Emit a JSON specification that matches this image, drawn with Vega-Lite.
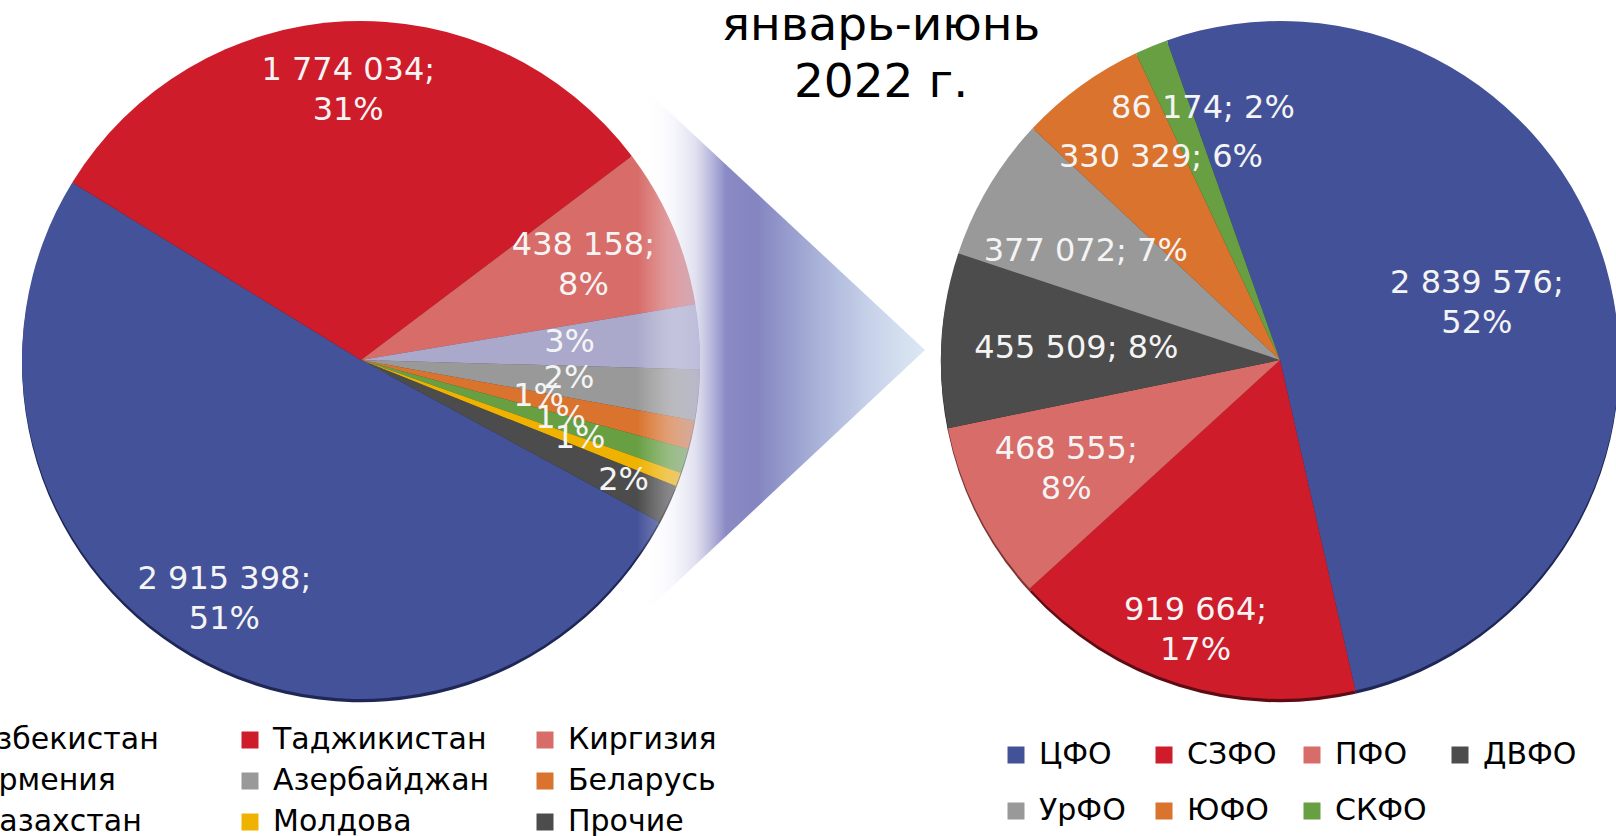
{
  "$schema": "https://vega.github.io/schema/vega-lite/v6.json",
  "width": 1616,
  "height": 720,
  "autosize": {"type": "none"},
  "padding": {"left": 0, "top": 0, "right": 0, "bottom": 116},
  "background": "white",
  "config": {"view": {"stroke": null}, "font": "DejaVu Sans"},
  "title": {
    "text": ["январь-июнь", "2022 г."],
    "font": "DejaVu Sans",
    "fontSize": 47,
    "fontWeight": "normal",
    "color": "#000000",
    "anchor": "middle",
    "frame": "group",
    "dx": 73,
    "offset": -107,
    "lineHeight": 57
  },
  "datasets": {
    "countries": [
      {"i": 1, "name": "Узбекистан", "value": 2915398, "label": "2 915 398;\n51%"},
      {"i": 2, "name": "Таджикистан", "value": 1774034, "label": "1 774 034;\n31%"},
      {"i": 3, "name": "Киргизия", "value": 438158, "label": "438 158;\n8%"},
      {"i": 4, "name": "Армения", "value": 176000, "label": "3%"},
      {"i": 5, "name": "Азербайджан", "value": 138000, "label": "2%"},
      {"i": 6, "name": "Беларусь", "value": 79000, "label": "1%"},
      {"i": 7, "name": "Казахстан", "value": 67000, "label": "1%"},
      {"i": 8, "name": "Молдова", "value": 38000, "label": "1%"},
      {"i": 9, "name": "Прочие", "value": 106000, "label": "2%"}
    ],
    "districts": [
      {"i": 1, "name": "ЦФО", "value": 2839576, "label": "2 839 576;\n52%"},
      {"i": 2, "name": "СЗФО", "value": 919664, "label": "919 664;\n17%"},
      {"i": 3, "name": "ПФО", "value": 468555, "label": "468 555;\n8%"},
      {"i": 4, "name": "ДВФО", "value": 455509, "label": "455 509; 8%"},
      {"i": 5, "name": "УрФО", "value": 377072, "label": "377 072; 7%"},
      {"i": 6, "name": "ЮФО", "value": 330329, "label": "330 329; 6%"},
      {"i": 7, "name": "СКФО", "value": 86174, "label": "86 174; 2%"}
    ],
    "connector": [{"part": "выноска"}]
  },
  "resolve": {"scale": {"theta": "independent", "color": "independent", "x": "independent", "y": "independent"}},
  "layer": [
    {
      "data": {"name": "countries"},
      "mark": {"type": "arc", "outerRadius": 339, "strokeWidth": 0},
      "encoding": {
        "x": {"datum": "страны", "type": "nominal", "scale": {"type": "point", "align": 0.2234}, "axis": null},
        "y": {"datum": "страны", "type": "nominal", "scale": {"type": "point", "align": 0.5045}, "axis": null},
        "theta": {"field": "value", "type": "quantitative", "stack": true, "scale": {"range": [2.068, 8.351]}},
        "order": {"field": "i", "type": "quantitative"},
        "color": {
          "field": "name", "type": "nominal",
          "scale": {
            "domain": ["Узбекистан", "Таджикистан", "Киргизия", "Армения", "Азербайджан", "Беларусь", "Казахстан", "Молдова", "Прочие"],
            "range": ["#1E2756", "#5E0C13", "#7A3634", "#55556A", "#4A4A4A", "#6A3816", "#304D20", "#745600", "#262626"]
          },
          "legend": null
        }
      }
    },
    {
      "data": {"name": "countries"},
      "mark": {"type": "arc", "outerRadius": 339, "strokeWidth": 0},
      "encoding": {
        "x": {"datum": "страны", "type": "nominal", "scale": {"type": "point", "align": 0.2234}, "axis": null},
        "theta": {"field": "value", "type": "quantitative", "stack": true, "scale": {"range": [2.068, 8.351]}},
        "order": {"field": "i", "type": "quantitative"},
        "color": {
          "field": "name", "type": "nominal",
          "scale": {
            "domain": ["Узбекистан", "Таджикистан", "Киргизия", "Армения", "Азербайджан", "Беларусь", "Казахстан", "Молдова", "Прочие"],
            "range": ["#445299", "#CE1C2A", "#D76C69", "#AAA9CB", "#999999", "#D9732D", "#679F42", "#EFB200", "#4C4C4C"]
          },
          "legend": {
            "title": null, "orient": "none", "legendX": -60, "legendY": 725,
            "direction": "horizontal", "columns": 3, "gridAlign": "all",
            "columnPadding": 40, "rowPadding": 11, "padding": 0,
            "symbolType": "square", "symbolSize": 289, "symbolStrokeWidth": 0,
            "labelFont": "DejaVu Sans", "labelFontSize": 30, "labelColor": "#000000",
            "labelOffset": 8, "labelLimit": 400
          }
        }
      }
    },
    {
      "data": {"name": "connector"},
      "mark": {
        "type": "arc", "theta": 3.96, "theta2": 5.462, "outerRadius": 398, "innerRadius": 0, "strokeWidth": 0,
        "fill": {
          "gradient": "linear", "x1": 0, "y1": 0, "x2": 1, "y2": 0,
          "stops": [
            {"offset": 0, "color": "rgba(255,255,255,0)"},
            {"offset": 0.276, "color": "rgba(255,255,255,0)"},
            {"offset": 0.354, "color": "rgba(240,240,250,0.35)"},
            {"offset": 0.422, "color": "rgba(205,205,230,0.6)"},
            {"offset": 0.46, "color": "rgba(175,174,215,0.85)"},
            {"offset": 0.5, "color": "#8A8AC4"},
            {"offset": 0.578, "color": "#8485C1"},
            {"offset": 0.731, "color": "#A9B2D8"},
            {"offset": 0.867, "color": "#C8D3EA"},
            {"offset": 1, "color": "#DDE8F4"}
          ]
        }
      },
      "encoding": {
        "x": {"datum": "выноска", "type": "nominal", "scale": {"type": "point", "align": 0.5724}, "axis": null},
        "y": {"datum": "выноска", "type": "nominal", "scale": {"type": "point", "align": 0.4861}, "axis": null}
      }
    },
    {
      "data": {"name": "districts"},
      "mark": {"type": "arc", "outerRadius": 339, "strokeWidth": 0},
      "encoding": {
        "x": {"datum": "округа", "type": "nominal", "scale": {"type": "point", "align": 0.7921}, "axis": null},
        "y": {"datum": "округа", "type": "nominal", "scale": {"type": "point", "align": 0.5045}, "axis": null},
        "theta": {"field": "value", "type": "quantitative", "stack": true, "scale": {"range": [5.943, 12.226]}},
        "order": {"field": "i", "type": "quantitative"},
        "color": {
          "field": "name", "type": "nominal",
          "scale": {
            "domain": ["ЦФО", "СЗФО", "ПФО", "ДВФО", "УрФО", "ЮФО", "СКФО"],
            "range": ["#1E2756", "#5E0C13", "#7A3634", "#262626", "#4A4A4A", "#6A3816", "#304D20"]
          },
          "legend": null
        }
      }
    },
    {
      "data": {"name": "districts"},
      "mark": {"type": "arc", "outerRadius": 339, "strokeWidth": 0},
      "encoding": {
        "x": {"datum": "округа", "type": "nominal", "scale": {"type": "point", "align": 0.7921}, "axis": null},
        "theta": {"field": "value", "type": "quantitative", "stack": true, "scale": {"range": [5.943, 12.226]}},
        "order": {"field": "i", "type": "quantitative"},
        "color": {
          "field": "name", "type": "nominal",
          "scale": {
            "domain": ["ЦФО", "СЗФО", "ПФО", "ДВФО", "УрФО", "ЮФО", "СКФО"],
            "range": ["#435298", "#CE1C2A", "#D76C69", "#4C4C4C", "#999999", "#D9732D", "#679F42"]
          },
          "legend": {
            "title": null, "orient": "none", "legendX": 1001, "legendY": 740,
            "direction": "horizontal", "columns": 4, "gridAlign": "all",
            "columnPadding": 16, "rowPadding": 26, "padding": 0,
            "symbolType": "square", "symbolSize": 289, "symbolStrokeWidth": 0,
            "labelFont": "DejaVu Sans", "labelFontSize": 30, "labelColor": "#000000",
            "labelOffset": 8, "labelLimit": 400
          }
        }
      }
    },
    {
      "data": {"name": "countries"},
      "mark": {"type": "text", "radius": 273, "dy": -17, "font": "DejaVu Sans", "fontSize": 32, "fill": "#F4F4F4", "lineBreak": "\n", "lineHeight": 40, "align": "center", "baseline": "middle"},
      "encoding": {
        "x": {"datum": "страны", "type": "nominal", "scale": {"type": "point", "align": 0.2234}, "axis": null},
        "theta": {"field": "value", "type": "quantitative", "stack": true, "scale": {"range": [2.068, 8.351]}},
        "order": {"field": "i", "type": "quantitative"},
        "detail": {"field": "name", "type": "nominal"},
        "text": {"condition": {"test": {"field": "name", "oneOf": ["Узбекистан", "Таджикистан"]}, "field": "label", "type": "nominal"}, "value": ""}
      }
    },
    {
      "data": {"name": "countries"},
      "mark": {"type": "text", "radius": 242, "dy": -20, "font": "DejaVu Sans", "fontSize": 32, "fill": "#F4F4F4", "lineBreak": "\n", "lineHeight": 40, "align": "center", "baseline": "middle"},
      "encoding": {
        "x": {"datum": "страны", "type": "nominal", "scale": {"type": "point", "align": 0.2234}, "axis": null},
        "theta": {"field": "value", "type": "quantitative", "stack": true, "scale": {"range": [2.068, 8.351]}},
        "order": {"field": "i", "type": "quantitative"},
        "detail": {"field": "name", "type": "nominal"},
        "text": {"condition": {"test": {"field": "name", "oneOf": ["Киргизия"]}, "field": "label", "type": "nominal"}, "value": ""}
      }
    },
    {
      "data": {"name": "countries"},
      "mark": {"type": "text", "radius": 290, "dy": -3, "font": "DejaVu Sans", "fontSize": 32, "fill": "#F4F4F4", "align": "center", "baseline": "middle"},
      "encoding": {
        "x": {"datum": "страны", "type": "nominal", "scale": {"type": "point", "align": 0.2234}, "axis": null},
        "theta": {"field": "value", "type": "quantitative", "stack": true, "scale": {"range": [2.068, 8.351]}},
        "order": {"field": "i", "type": "quantitative"},
        "detail": {"field": "name", "type": "nominal"},
        "text": {"condition": {"test": {"field": "name", "oneOf": ["Прочие"]}, "field": "label", "type": "nominal"}, "value": ""}
      }
    },
    {
      "data": {"name": "countries"},
      "mark": {"type": "text", "radius": 234, "dy": -4, "font": "DejaVu Sans", "fontSize": 32, "fill": "#F4F4F4", "align": "center", "baseline": "middle"},
      "encoding": {
        "x": {"datum": "страны", "type": "nominal", "scale": {"type": "point", "align": 0.2234}, "axis": null},
        "theta": {"field": "value", "type": "quantitative", "stack": true, "scale": {"range": [2.068, 8.351]}},
        "order": {"field": "i", "type": "quantitative"},
        "detail": {"field": "name", "type": "nominal"},
        "text": {"condition": {"test": {"field": "name", "oneOf": ["Молдова"]}, "field": "label", "type": "nominal"}, "value": ""}
      }
    },
    {
      "data": {"name": "countries"},
      "mark": {"type": "text", "radius": 209, "dy": -4, "font": "DejaVu Sans", "fontSize": 32, "fill": "#F4F4F4", "align": "center", "baseline": "middle"},
      "encoding": {
        "x": {"datum": "страны", "type": "nominal", "scale": {"type": "point", "align": 0.2234}, "axis": null},
        "theta": {"field": "value", "type": "quantitative", "stack": true, "scale": {"range": [2.068, 8.351]}},
        "order": {"field": "i", "type": "quantitative"},
        "detail": {"field": "name", "type": "nominal"},
        "text": {"condition": {"test": {"field": "name", "oneOf": ["Армения", "Азербайджан", "Казахстан"]}, "field": "label", "type": "nominal"}, "value": ""}
      }
    },
    {
      "data": {"name": "countries"},
      "mark": {"type": "text", "radius": 182, "dy": -4, "font": "DejaVu Sans", "fontSize": 32, "fill": "#F4F4F4", "align": "center", "baseline": "middle"},
      "encoding": {
        "x": {"datum": "страны", "type": "nominal", "scale": {"type": "point", "align": 0.2234}, "axis": null},
        "theta": {"field": "value", "type": "quantitative", "stack": true, "scale": {"range": [2.068, 8.351]}},
        "order": {"field": "i", "type": "quantitative"},
        "detail": {"field": "name", "type": "nominal"},
        "text": {"condition": {"test": {"field": "name", "oneOf": ["Беларусь"]}, "field": "label", "type": "nominal"}, "value": ""}
      }
    },
    {
      "data": {"name": "districts"},
      "mark": {"type": "text", "radius": 205, "dy": -20, "font": "DejaVu Sans", "fontSize": 32, "fill": "#F4F4F4", "lineBreak": "\n", "lineHeight": 40, "align": "center", "baseline": "middle"},
      "encoding": {
        "x": {"datum": "округа", "type": "nominal", "scale": {"type": "point", "align": 0.7921}, "axis": null},
        "theta": {"field": "value", "type": "quantitative", "stack": true, "scale": {"range": [5.943, 12.226]}},
        "order": {"field": "i", "type": "quantitative"},
        "detail": {"field": "name", "type": "nominal"},
        "text": {"condition": {"test": {"field": "name", "oneOf": ["ЦФО"]}, "field": "label", "type": "nominal"}, "value": ""}
      }
    },
    {
      "data": {"name": "districts"},
      "mark": {"type": "text", "radius": 240, "dy": -20, "font": "DejaVu Sans", "fontSize": 32, "fill": "#F4F4F4", "lineBreak": "\n", "lineHeight": 40, "align": "center", "baseline": "middle"},
      "encoding": {
        "x": {"datum": "округа", "type": "nominal", "scale": {"type": "point", "align": 0.7921}, "axis": null},
        "theta": {"field": "value", "type": "quantitative", "stack": true, "scale": {"range": [5.943, 12.226]}},
        "order": {"field": "i", "type": "quantitative"},
        "detail": {"field": "name", "type": "nominal"},
        "text": {"condition": {"test": {"field": "name", "oneOf": ["ПФО"]}, "field": "label", "type": "nominal"}, "value": ""}
      }
    },
    {
      "data": {"name": "districts"},
      "mark": {"type": "text", "radius": 283, "dy": -20, "font": "DejaVu Sans", "fontSize": 32, "fill": "#F4F4F4", "lineBreak": "\n", "lineHeight": 40, "align": "center", "baseline": "middle"},
      "encoding": {
        "x": {"datum": "округа", "type": "nominal", "scale": {"type": "point", "align": 0.7921}, "axis": null},
        "theta": {"field": "value", "type": "quantitative", "stack": true, "scale": {"range": [5.943, 12.226]}},
        "order": {"field": "i", "type": "quantitative"},
        "detail": {"field": "name", "type": "nominal"},
        "text": {"condition": {"test": {"field": "name", "oneOf": ["СЗФО"]}, "field": "label", "type": "nominal"}, "value": ""}
      }
    },
    {
      "data": {"name": "districts"},
      "mark": {"type": "text", "radius": 204, "font": "DejaVu Sans", "fontSize": 32, "fill": "#F4F4F4", "align": "center", "baseline": "middle"},
      "encoding": {
        "x": {"datum": "округа", "type": "nominal", "scale": {"type": "point", "align": 0.7921}, "axis": null},
        "theta": {"field": "value", "type": "quantitative", "stack": true, "scale": {"range": [5.943, 12.226]}},
        "order": {"field": "i", "type": "quantitative"},
        "detail": {"field": "name", "type": "nominal"},
        "text": {"condition": {"test": {"field": "name", "oneOf": ["ДВФО"]}, "field": "label", "type": "nominal"}, "value": ""}
      }
    },
    {
      "data": {"name": "districts"},
      "mark": {"type": "text", "radius": 226, "dy": 6, "font": "DejaVu Sans", "fontSize": 32, "fill": "#F4F4F4", "align": "center", "baseline": "middle"},
      "encoding": {
        "x": {"datum": "округа", "type": "nominal", "scale": {"type": "point", "align": 0.7921}, "axis": null},
        "theta": {"field": "value", "type": "quantitative", "stack": true, "scale": {"range": [5.943, 12.226]}},
        "order": {"field": "i", "type": "quantitative"},
        "detail": {"field": "name", "type": "nominal"},
        "text": {"condition": {"test": {"field": "name", "oneOf": ["УрФО"]}, "field": "label", "type": "nominal"}, "value": ""}
      }
    },
    {
      "data": {"name": "districts"},
      "mark": {"type": "text", "radius": 228, "dx": 15, "dy": -19, "font": "DejaVu Sans", "fontSize": 32, "fill": "#F4F4F4", "align": "center", "baseline": "middle"},
      "encoding": {
        "x": {"datum": "округа", "type": "nominal", "scale": {"type": "point", "align": 0.7921}, "axis": null},
        "theta": {"field": "value", "type": "quantitative", "stack": true, "scale": {"range": [5.943, 12.226]}},
        "order": {"field": "i", "type": "quantitative"},
        "detail": {"field": "name", "type": "nominal"},
        "text": {"condition": {"test": {"field": "name", "oneOf": ["ЮФО"]}, "field": "label", "type": "nominal"}, "value": ""}
      }
    },
    {
      "data": {"name": "districts"},
      "mark": {"type": "text", "radius": 266, "dx": 24, "dy": -6, "font": "DejaVu Sans", "fontSize": 32, "fill": "#F4F4F4", "align": "center", "baseline": "middle"},
      "encoding": {
        "x": {"datum": "округа", "type": "nominal", "scale": {"type": "point", "align": 0.7921}, "axis": null},
        "theta": {"field": "value", "type": "quantitative", "stack": true, "scale": {"range": [5.943, 12.226]}},
        "order": {"field": "i", "type": "quantitative"},
        "detail": {"field": "name", "type": "nominal"},
        "text": {"condition": {"test": {"field": "name", "oneOf": ["СКФО"]}, "field": "label", "type": "nominal"}, "value": ""}
      }
    }
  ]
}
